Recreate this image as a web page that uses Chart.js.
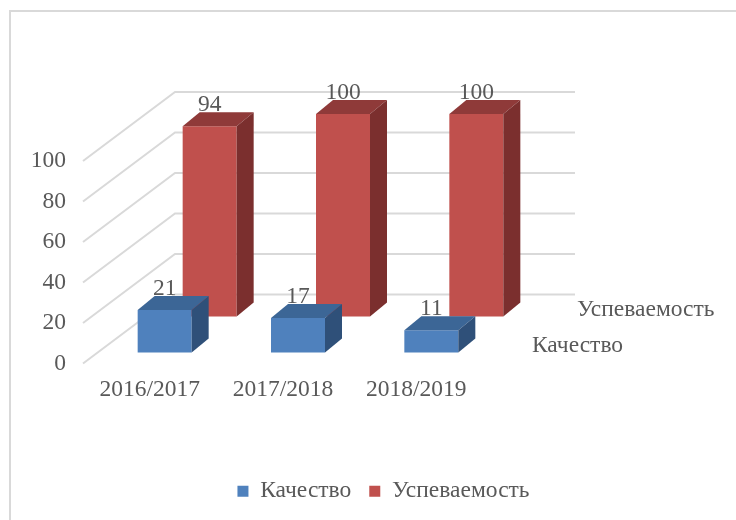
<!DOCTYPE html>
<html><head><meta charset="utf-8">
<script src="https://cdn.jsdelivr.net/npm/chart.js@4"></script>
<style>html,body{margin:0;padding:0;background:#fff;overflow:hidden}#wrap{width:736px;height:520px}</style>
</head><body><div id="wrap"><canvas id="c" width="736" height="520"></canvas></div>
<script>
const categories = ['2016/2017', '2017/2018', '2018/2019'];
const seriesNames = ['Качество', 'Успеваемость'];
const qualityValues = [21, 17, 11];
const progressValues = [94, 100, 100];
const yTickValues = [0, 20, 40, 60, 80, 100];

const FONT = "'Liberation Serif', 'Times New Roman', serif";
const FSIZE = 23.5;
const TEXT = '#595959';
const GRID = '#d9d9d9';
const palette = [
  { front: '#4F81BD', top: '#3C6696', side: '#2F5079' },
  { front: '#C0504D', top: '#8F3A39', side: '#7B2F2E' }
];
const rowOffset = [{ dx: 15, dy: -11 }, { dx: 60, dy: -47 }];
const barDepth = { dx: 17, dy: -14 };
const wallDepth = { dx: 92, dy: -69 };

const threeD = {
  id: 'threeD',
  beforeDraw(chart) {
    const ctx = chart.ctx;
    ctx.save();
    ctx.strokeStyle = GRID; ctx.lineWidth = 2;
    ctx.beginPath();
    ctx.moveTo(10, 520); ctx.lineTo(10, 11); ctx.lineTo(736, 11);
    ctx.stroke();
    ctx.restore();
  },
  beforeDatasetsDraw(chart) {
    const { ctx, chartArea: a, scales: { y } } = chart;
    ctx.save();
    ctx.strokeStyle = GRID; ctx.lineWidth = 2;
    y.ticks.forEach(t => {
      const py = y.getPixelForValue(t.value);
      ctx.beginPath();
      ctx.moveTo(a.left, py);
      ctx.lineTo(a.left + wallDepth.dx, py + wallDepth.dy);
      ctx.lineTo(a.right + wallDepth.dx, py + wallDepth.dy);
      ctx.stroke();
    });
    ctx.fillStyle = TEXT;
    ctx.font = FSIZE + 'px ' + FONT;
    ctx.textAlign = 'left'; ctx.textBaseline = 'middle';
    const y0 = y.getPixelForValue(0);
    chart.data.datasets.forEach((ds, i) => {
      const o = rowOffset[i];
      ctx.fillText(ds.label, a.right + o.dx + 34, y0 + o.dy - 7);
    });
    ctx.restore();
  },
  beforeDatasetDraw(chart, args) {
    const o = rowOffset[args.index];
    chart.ctx.save();
    chart.ctx.translate(o.dx, o.dy);
  },
  afterDatasetDraw(chart, args) {
    const ctx = chart.ctx;
    const col = palette[args.index];
    args.meta.data.forEach(el => {
      const w = el.width, l = el.x - w / 2, r = el.x + w / 2, t = el.y, b = el.base;
      const dx = barDepth.dx, dy = barDepth.dy;
      ctx.fillStyle = col.top;
      ctx.beginPath();
      ctx.moveTo(l, t); ctx.lineTo(r, t); ctx.lineTo(r + dx, t + dy); ctx.lineTo(l + dx, t + dy);
      ctx.closePath(); ctx.fill();
      ctx.fillStyle = col.side;
      ctx.beginPath();
      ctx.moveTo(r, t); ctx.lineTo(r + dx, t + dy); ctx.lineTo(r + dx, b + dy); ctx.lineTo(r, b);
      ctx.closePath(); ctx.fill();
    });
    ctx.restore();
  },
  afterDatasetsDraw(chart) {
    const ctx = chart.ctx;
    ctx.save();
    ctx.fillStyle = TEXT;
    ctx.font = FSIZE + 'px ' + FONT;
    ctx.textAlign = 'center'; ctx.textBaseline = 'alphabetic';
    chart.data.datasets.forEach((ds, i) => {
      const o = rowOffset[i];
      chart.getDatasetMeta(i).data.forEach((el, j) => {
        ctx.fillText(String(ds.data[j]), el.x + o.dx, el.y + o.dy + barDepth.dy - 1);
      });
    });
    ctx.restore();
  }
};

new Chart(document.getElementById('c'), {
  type: 'bar',
  data: {
    labels: categories,
    datasets: [
      { label: seriesNames[0], data: qualityValues, backgroundColor: palette[0].front, clip: false },
      { label: seriesNames[1], data: progressValues, backgroundColor: palette[1].front, clip: false }
    ]
  },
  options: {
    responsive: false,
    animation: false,
    devicePixelRatio: 1,
    layout: { padding: { left: 31, right: 0, top: 161, bottom: 7 } },
    datasets: { bar: { grouped: false, categoryPercentage: 1, barPercentage: 0.405, borderWidth: 0 } },
    scales: {
      x: {
        grid: { display: false, drawTicks: false },
        border: { display: false },
        ticks: { color: TEXT, font: { family: FONT, size: FSIZE }, padding: 12 },
        afterFit(s) { s.height = 98; }
      },
      y: {
        min: 0, max: 100,
        grid: { display: false, drawTicks: false },
        border: { display: false },
        ticks: { color: TEXT, font: { family: FONT, size: FSIZE }, padding: 17 },
        afterBuildTicks(s) { s.ticks = yTickValues.map(v => ({ value: v })); },
        afterFit(s) { s.width = 52; }
      },
      side: {
        type: 'linear', position: 'right', display: true,
        grid: { display: false, drawTicks: false },
        border: { display: false },
        ticks: { display: false },
        afterFit(s) { s.width = 253; }
      }
    },
    plugins: {
      tooltip: { enabled: false },
      legend: {
        position: 'bottom',
        labels: { boxWidth: 11, boxHeight: 11, padding: 18, color: TEXT, font: { family: FONT, size: FSIZE } }
      }
    }
  },
  plugins: [threeD]
});
</script>
</body></html>
